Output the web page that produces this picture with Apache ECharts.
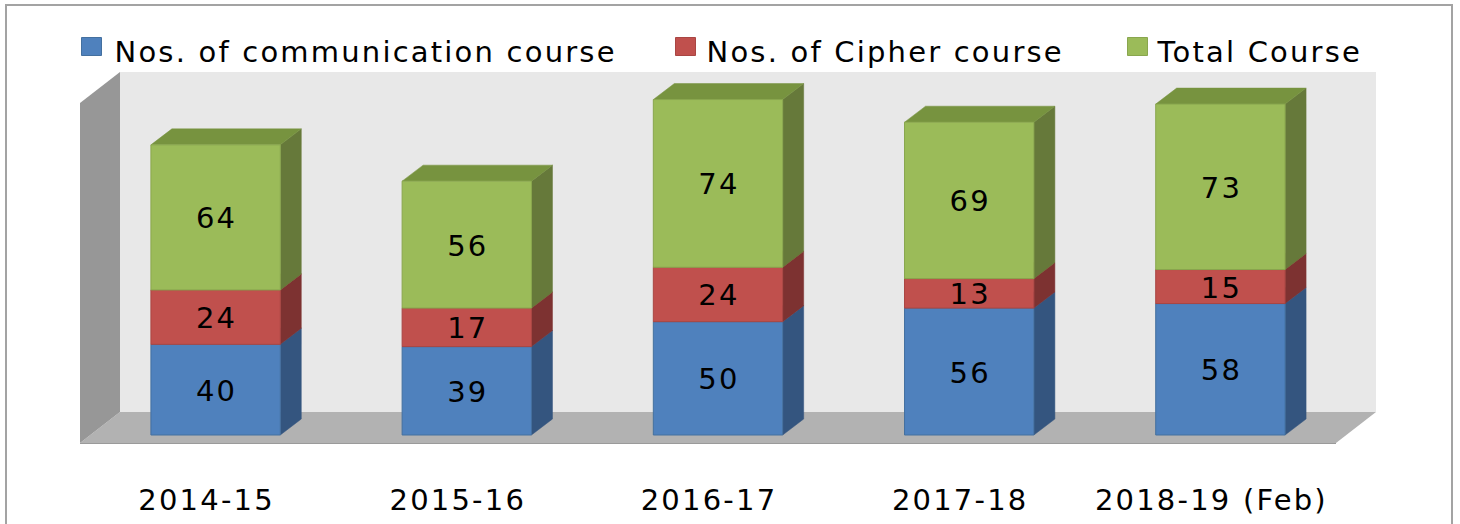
<!DOCTYPE html>
<html>
<head>
<meta charset="utf-8">
<script src="https://cdn.jsdelivr.net/npm/echarts@6/dist/echarts.min.js"></script>
<style>
html,body{margin:0;padding:0;background:#fff;}
#c{width:1460px;height:524px;}
#c svg text{letter-spacing:2.2px;}
</style>
</head>
<body>
<div id="c"></div>
<script>
// ---- data ----
const categories = ['2014-15', '2015-16', '2016-17', '2017-18', '2018-19 (Feb)'];
const communication = [40, 39, 50, 56, 58];
const cipher = [24, 17, 24, 13, 15];
const total = [64, 56, 74, 69, 73];
const seriesNames = ['Nos. of communication course', 'Nos. of Cipher course', 'Total Course'];
const yMax = 150;

// ---- styling ----
const FONT = 'DejaVu Sans';
const FS = 29;
const DX = 21, DY = -16;              // bar depth
const WALL_DX = 30, WALL_DY = -23;    // back wall plane offset
const FLOOR_DX = -10, FLOOR_DY = 8;   // floor front edge offset

const palette = [
  {front: '#4F81BD', side: '#34557F', top: '#3F6797', stroke: '#44709F'},
  {front: '#C0504D', side: '#7D3231', top: '#9A3F3D', stroke: '#A94643'},
  {front: '#9BBB59', side: '#66793A', top: '#77933F', stroke: '#89A64E'}
];

const base0 = categories.map(() => 0);
const base1 = communication.map((v, i) => base0[i] + v);
const base2 = cipher.map((v, i) => base1[i] + v);
function rows(vals, bases) { return vals.map((v, i) => [i, bases[i], bases[i] + v, v]); }

function makeRender(p) {
  return function (params, api) {
    const i = api.value(0), lo = api.value(1), hi = api.value(2), v = api.value(3);
    const pLo = api.coord([i, lo]), pHi = api.coord([i, hi]);
    const w = api.size([1, 0])[0] * 0.515;
    const xl = pLo[0] - w / 2, xr = pLo[0] + w / 2, yt = pHi[1], yb = pLo[1];
    return {
      type: 'group',
      children: [
        {type: 'polygon', shape: {points: [[xr, yt], [xr + DX, yt + DY], [xr + DX, yb + DY], [xr, yb]]},
          style: {fill: p.side, stroke: p.side, lineWidth: 0.5}},
        {type: 'polygon', shape: {points: [[xl, yt], [xl + DX, yt + DY], [xr + DX, yt + DY], [xr, yt]]},
          style: {fill: p.top, stroke: p.top, lineWidth: 0.5}},
        {type: 'rect', shape: {x: xl, y: yt, width: w, height: yb - yt},
          style: {fill: p.front, stroke: p.stroke, lineWidth: 1}},
        {type: 'text', style: {text: String(v), x: (xl + xr) / 2 + 1, y: (yt + yb) / 2 + 1,
          align: 'center', verticalAlign: 'middle', fill: '#000', fontSize: FS, fontFamily: FONT}}
      ]
    };
  };
}

function renderWalls(params, api) {
  const cs = params.coordSys;
  const x0 = cs.x, x1 = cs.x + cs.width;
  const yb = api.coord([0, 0])[1], yt = api.coord([0, yMax])[1];
  return {
    type: 'group',
    children: [
      {type: 'rect', shape: {x: x0 + WALL_DX, y: yt + WALL_DY, width: x1 - x0, height: yb - yt},
        style: {fill: '#E8E8E8'}},
      {type: 'polygon', shape: {points: [[x0 + FLOOR_DX, yb + FLOOR_DY], [x1 + FLOOR_DX, yb + FLOOR_DY],
          [x1 + WALL_DX, yb + WALL_DY], [x0 + WALL_DX, yb + WALL_DY]]},
        style: {fill: '#B2B2B2'}},
      {type: 'polygon', shape: {points: [[x0 + FLOOR_DX, yt + FLOOR_DY], [x0 + WALL_DX, yt + WALL_DY],
          [x0 + WALL_DX, yb + WALL_DY], [x0 + FLOOR_DX, yb + FLOOR_DY]]},
        style: {fill: '#979797'}},
      {type: 'line', shape: {x1: x0 + FLOOR_DX, y1: yb + FLOOR_DY + 0.5, x2: x1 + FLOOR_DX, y2: yb + FLOOR_DY + 0.5},
        style: {stroke: '#9A9A9A', lineWidth: 1}}
    ]
  };
}

const legendCommon = {
  orient: 'horizontal', padding: 0, itemWidth: 20, itemHeight: 18, icon: 'rect',
  selectedMode: false, top: 37, formatter: '{t|{name}}'
};
function legendText(pad) {
  return {fontSize: FS, fontFamily: FONT, color: '#000',
    rich: {t: {fontSize: FS, fontFamily: FONT, color: '#000', padding: [10, 0, 0, pad]}}};
}

const chart = echarts.init(document.getElementById('c'), null, {renderer: 'svg'});
chart.setOption({
  backgroundColor: '#fff',
  animation: false,
  graphic: [{
    type: 'rect', silent: true, z: -10,
    shape: {x: 6, y: 5, width: 1446, height: 560},
    style: {fill: 'none', stroke: '#A3A3A3', lineWidth: 2}
  }],
  legend: [
    Object.assign({}, legendCommon, {left: 81, textStyle: legendText(8),
      data: [{name: seriesNames[0], itemStyle: {color: palette[0].front, borderColor: palette[0].stroke, borderWidth: 1}}]}),
    Object.assign({}, legendCommon, {left: 675, textStyle: legendText(6),
      data: [{name: seriesNames[1], itemStyle: {color: palette[1].front, borderColor: palette[1].stroke, borderWidth: 1}}]}),
    Object.assign({}, legendCommon, {left: 1127, textStyle: legendText(5),
      data: [{name: seriesNames[2], itemStyle: {color: palette[2].front, borderColor: palette[2].stroke, borderWidth: 1}}]})
  ],
  grid: {left: 90, right: 114, top: 95, bottom: 89, containLabel: false},
  xAxis: {
    type: 'category', data: categories,
    axisLine: {show: false}, axisTick: {show: false}, splitLine: {show: false},
    axisLabel: {interval: 0, margin: 50, fontSize: FS, fontFamily: FONT, color: '#000', padding: [0, 18, 0, 0]}
  },
  yAxis: {type: 'value', min: 0, max: yMax, show: false},
  series: [
    {type: 'custom', name: '__walls', silent: true, z: 1, data: [[0, 0]], renderItem: renderWalls},
    {type: 'custom', name: seriesNames[0], z: 2, itemStyle: {color: palette[0].front},
      data: rows(communication, base0), renderItem: makeRender(palette[0])},
    {type: 'custom', name: seriesNames[1], z: 2, itemStyle: {color: palette[1].front},
      data: rows(cipher, base1), renderItem: makeRender(palette[1])},
    {type: 'custom', name: seriesNames[2], z: 2, itemStyle: {color: palette[2].front},
      data: rows(total, base2), renderItem: makeRender(palette[2])}
  ]
});
</script>
</body>
</html>
